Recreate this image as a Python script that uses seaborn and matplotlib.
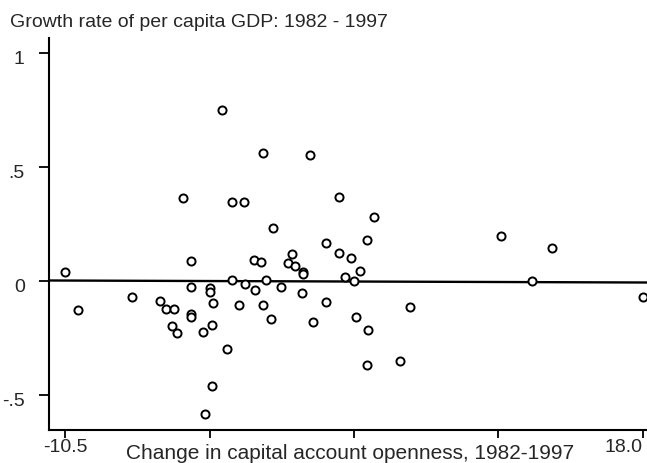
import numpy as np
import pandas as pd
import matplotlib
matplotlib.use('Agg')
import matplotlib.pyplot as plt
from matplotlib.transforms import ScaledTranslation
import seaborn as sns

# change in capital account openness (x) and per capita GDP growth (y)
openness = [-10.5, -9.87, -7.20, -5.80, -5.50, -5.14, -5.22, -4.97, -4.70, -4.31,
            -4.31, -4.31, -4.31, -3.71, -3.36, -3.33, -3.19, -3.24, -2.53, -3.23,
            -3.59, -2.75, -2.25, -1.68, -2.25, -1.92, -1.63, -1.18, -0.85, -1.15,
            -0.74, -0.74, -0.57, -0.36, -0.22, 0.17, 0.68, 0.52, 0.85, 1.26,
            1.26, 1.18, 1.57, 1.74, 2.36, 2.36, 2.99, 2.99, 3.30, 3.60,
            3.77, 3.85, 4.05, 4.38, 4.43, 4.38, 4.73, 6.03, 6.51, 11.02,
            12.51, 13.50, 18.0]
growth = [0.040, -0.128, -0.071, -0.086, -0.121, -0.121, -0.195, -0.227, 0.365, 0.091,
          -0.025, -0.143, -0.157, -0.223, -0.030, -0.047, -0.096, -0.191, -0.296, -0.461,
          -0.584, 0.752, 0.350, 0.350, 0.004, -0.103, -0.012, 0.094, 0.084, -0.040,
          0.562, -0.103, 0.004, -0.166, 0.233, -0.023, 0.121, 0.080, 0.065, 0.040,
          0.033, -0.052, 0.555, -0.181, 0.170, -0.091, 0.126, 0.372, 0.017, 0.104,
          -0.001, -0.159, 0.047, 0.181, -0.216, -0.369, 0.282, -0.352, -0.115, 0.200,
          -0.001, 0.146, -0.067]

# fitted line (almost flat)
fit_intercept = 0.0
fit_slope = -0.0003

x_ticks = [-10.5, -3.375, 3.75, 10.875, 18.0]
x_ticklabels = ['-10.5', '', '', '', '18.0']
y_ticks = [-0.5, 0, 0.5, 1]
y_ticklabels = ['-.5', '0', '.5', '1']

df = pd.DataFrame({'openness': openness, 'growth': growth})

sns.set_style('white')
plt.rcParams['font.family'] = ['Liberation Sans', 'DejaVu Sans']

fig = plt.figure(figsize=(6.47, 4.63), dpi=100)
ax = fig.add_axes([49/647, 1 - 430/463, 1 - 49/647, (430 - 38)/463])

sns.scatterplot(x='openness', y='growth', data=df, ax=ax, s=34, marker='o',
                facecolor='white', edgecolor='black', linewidth=1.4, zorder=3)
ax.axline((0, fit_intercept), slope=fit_slope, color='black', lw=1.7, zorder=2)

ax.set_xlim(-11.29, 18.2)
ax.set_ylim(-0.653, 1.068)

ax.set_xticks(x_ticks)
ax.set_xticklabels(x_ticklabels, fontsize=14)
labs = ax.get_xticklabels()
labs[-1].set_ha('right')
ax.set_yticks(y_ticks)
ax.set_yticklabels(y_ticklabels, fontsize=14)

ax.tick_params(axis='x', direction='out', length=5.5, width=1.3, color='black',
               bottom=True, pad=1)
ax.tick_params(axis='y', direction='out', length=7.5, width=1.3, color='black',
               left=True, pad=10)

for side in ['top', 'right']:
    ax.spines[side].set_visible(False)
for side in ['left', 'bottom']:
    ax.spines[side].set_color('black')
    ax.spines[side].set_linewidth(1.5)

ax.set_xlabel('')
ax.set_ylabel('')

fig.text(10/647, 1 - 27/463, 'Growth rate of per capita GDP: 1982 - 1997',
         fontsize=14, va='baseline', ha='left')
fig.text(350/647, 1 - 459/463, 'Change in capital account openness, 1982-1997',
         fontsize=15, va='baseline', ha='center')

# nudge the y tick labels a little below their ticks, like the original
fig.canvas.draw()
for tick in ax.yaxis.get_major_ticks():
    tick.label1.set_transform(tick.label1.get_transform() +
                              ScaledTranslation(0, -4/100, fig.dpi_scale_trans))

fig.savefig('out.png', dpi=100)
